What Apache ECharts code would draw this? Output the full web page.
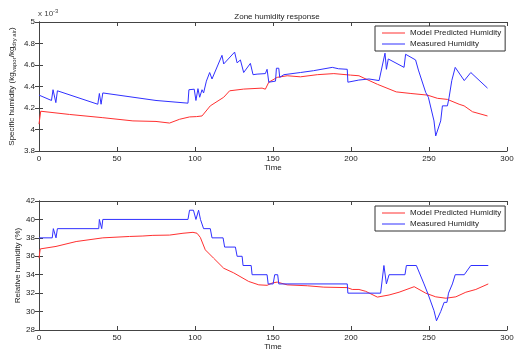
<!DOCTYPE html>
<html>
<head>
<meta charset="UTF-8">
<title>Zone humidity response</title>
<script src="https://cdn.jsdelivr.net/npm/echarts@6/dist/echarts.min.js"></script>
<style>
  html, body { margin: 0; padding: 0; background: #fff; }
  #main { width: 514px; height: 352px; }
</style>
</head>
<body>
<div id="main"></div>
<script>
// specific humidity (x 10^-3), model
var specModelT = [0, 1.1, 19.5, 40.9, 60.2, 75, 83.7, 90.1, 96.5, 101, 104.5, 109.8, 118.4, 122.2, 131.2, 143, 145.1, 147.3, 152.7, 159.1, 167.6, 178.4, 189, 199.7, 205.1, 208.3, 217, 229, 238.4, 249, 255.4, 261.8, 269.3, 272.5, 277.9, 287.5];
var specModelV = [4.05, 4.17, 4.14, 4.11, 4.08, 4.075, 4.06, 4.095, 4.117, 4.12, 4.126, 4.22, 4.30, 4.36, 4.376, 4.385, 4.375, 4.44, 4.485, 4.50, 4.49, 4.51, 4.52, 4.506, 4.50, 4.478, 4.42, 4.35, 4.335, 4.32, 4.29, 4.28, 4.235, 4.22, 4.165, 4.126];
// specific humidity, measured
var specMeasT = [0, 8, 9, 10, 10.8, 11.8, 37.7, 38.7, 39.8, 40.9, 75, 95.5, 96.1, 99.5, 100.6, 101.9, 103, 104.5, 105.5, 107.3, 109.4, 110.9, 117.3, 118.4, 125.4, 127, 129.1, 131.2, 135.5, 137.2, 139.8, 145.1, 146.2, 147.3, 151.6, 152.2, 153.7, 154.3, 157, 167.6, 176, 188, 192, 197.6, 198, 205, 211.5, 218, 219, 221.8, 222.7, 223.9, 234, 235, 241.4, 243.2, 247.9, 249.6, 253.2, 254.3, 255.4, 257.5, 258.6, 261.8, 262.9, 264.6, 266.8, 272.6, 276.8, 287.5];
var specMeasV = [4.32, 4.27, 4.37, 4.37, 4.25, 4.36, 4.235, 4.335, 4.235, 4.34, 4.27, 4.245, 4.37, 4.375, 4.27, 4.38, 4.30, 4.37, 4.34, 4.45, 4.53, 4.47, 4.69, 4.61, 4.72, 4.62, 4.647, 4.53, 4.615, 4.51, 4.515, 4.52, 4.56, 4.44, 4.45, 4.57, 4.57, 4.485, 4.51, 4.53, 4.547, 4.578, 4.565, 4.56, 4.44, 4.46, 4.47, 4.455, 4.44, 4.71, 4.56, 4.656, 4.578, 4.70, 4.647, 4.553, 4.344, 4.30, 4.08, 3.94, 3.94, 4.08, 4.22, 4.22, 4.30, 4.455, 4.578, 4.455, 4.53, 4.385];

// relative humidity (%), model
var relModelT = [0, 0.8, 10.9, 23.8, 40.9, 58, 66.6, 73, 83.7, 92.3, 98.7, 101.3, 103.4, 106.6, 111.9, 118.4, 124.8, 134.4, 140.9, 146.2, 149.5, 152.7, 159.1, 172, 182.6, 197.6, 200.8, 205.1, 209.4, 216.9, 224.4, 230.8, 240.5, 247.9, 254.3, 260.8, 267.2, 273.6, 280, 288];
var relModelV = [35.8, 36.8, 37.07, 37.6, 38.0, 38.15, 38.2, 38.27, 38.3, 38.5, 38.6, 38.5, 38.05, 36.7, 35.8, 34.7, 34.2, 33.27, 32.9, 32.85, 33.1, 33.2, 32.9, 32.8, 32.65, 32.6, 32.4, 32.4, 32.2, 31.57, 31.8, 32.1, 32.7, 32.0, 31.6, 31.45, 31.6, 32.1, 32.4, 33.0];
// relative humidity, measured
var relMeasT = [0, 8.5, 9.2, 10.2, 10.9, 11.8, 38.3, 38.7, 40.2, 40.9, 95.5, 96.5, 99, 100.6, 102.3, 103.5, 104.5, 105.5, 109.8, 110.9, 118, 119, 125.9, 127, 130.2, 130.8, 136, 136.6, 146.2, 146.9, 150.1, 151.1, 153, 153.7, 197.6, 198, 219, 221.1, 222.7, 224.4, 234.6, 235.5, 241.9, 246.8, 249.6, 253.2, 254.8, 256, 257.5, 259.7, 261.5, 262.5, 265, 266.8, 272.6, 276.8, 288];
var relMeasV = [38, 38, 39, 39, 38, 39, 39, 40, 39, 40, 40, 41, 41, 40, 41, 40, 40, 39, 39, 38, 38, 37, 37, 36, 36, 35, 35, 34, 34, 33, 33, 34, 34, 33, 33, 32, 32, 35, 33, 34, 34, 35, 35, 33, 31.8, 30.1, 29, 29, 30, 31, 31, 32, 33, 34, 34, 35, 35];

var names = ['Model Predicted Humidity', 'Measured Humidity'];
var xTicks = [0, 300, 50];

function pairs(t, v) {
  return t.map(function (x, i) { return [x, v[i]]; });
}

var axisCol = '#444';
var txt = { color: '#222', fontSize: 8, fontFamily: 'Liberation Sans, Arial, sans-serif' };

function xAx(grid, pos, show) {
  return {
    type: 'value', gridIndex: grid, position: pos,
    min: xTicks[0], max: xTicks[1], interval: xTicks[2],
    name: show ? 'Time' : '', nameLocation: 'middle', nameGap: 13,
    nameMoveOverlap: false,
    nameTextStyle: txt,
    axisLine: { show: true, lineStyle: { color: axisCol, width: 1 } },
    axisTick: { show: true, inside: true, length: 4, lineStyle: { color: axisCol } },
    axisLabel: Object.assign({ show: show, margin: 4 }, txt),
    splitLine: { show: false }
  };
}
function yAx(grid, pos, show, mn, mx, step, name, gap) {
  return {
    type: 'value', gridIndex: grid, position: pos,
    min: mn, max: mx, interval: step,
    name: show ? name : '', nameLocation: 'middle', nameGap: gap,
    nameMoveOverlap: false,
    nameTextStyle: Object.assign({
      rich: {
        a: { fontSize: 8, color: '#222', fontFamily: txt.fontFamily },
        s: { fontSize: 6, color: '#222', fontFamily: txt.fontFamily, verticalAlign: 'bottom', padding: [4, 0, 0, 0] }
      }
    }, txt),
    axisLine: { show: true, lineStyle: { color: axisCol, width: 1 } },
    axisTick: { show: true, inside: true, length: 4, lineStyle: { color: axisCol } },
    axisLabel: Object.assign({ show: show, margin: 4 }, txt),
    splitLine: { show: false }
  };
}

function line(name, x, y, data, color) {
  return {
    name: name, type: 'line', xAxisIndex: x, yAxisIndex: y,
    data: data, symbol: 'none', showSymbol: false, animation: false,
    lineStyle: { color: color, width: 1 }, itemStyle: { color: color }
  };
}

function legend(top) {
  return {
    data: names, orient: 'vertical', left: 375, top: top,
    icon: 'rect', itemWidth: 23, itemHeight: 1, itemGap: 3,
    padding: [3, 4, 3, 7],
    backgroundColor: '#fff', borderColor: '#333', borderWidth: 1, borderRadius: 0,
    textStyle: txt, selectedMode: false
  };
}

var chart = echarts.init(document.getElementById('main'));
chart.setOption({
  backgroundColor: '#fff',
  animation: false,
  title: [{
    text: 'Zone humidity response', left: 272, top: 8, textAlign: 'center',
    textStyle: { color: '#222', fontSize: 8, fontWeight: 'normal', fontFamily: txt.fontFamily }
  }],
  graphic: [{
    type: 'text', left: 38, top: 8,
    style: {
      text: '{a|x 10}{b|-3}',
      rich: {
        a: { fontSize: 8, fill: '#444', fontFamily: txt.fontFamily },
        b: { fontSize: 6, fill: '#444', fontFamily: txt.fontFamily, verticalAlign: 'top', padding: [0, 0, 5, 0] }
      }
    }
  }],
  legend: [legend(26), legend(206)],
  grid: [
    { left: 39, right: 7, top: 22, height: 129, outerBoundsMode: 'none', containLabel: false },
    { left: 39, right: 7, top: 201, height: 129, outerBoundsMode: 'none', containLabel: false }
  ],
  xAxis: [xAx(0, 'bottom', true), xAx(0, 'top', false), xAx(1, 'bottom', true), xAx(1, 'top', false)],
  yAxis: [
    yAx(0, 'left', true, 3.8, 5, 0.2, '{a|Specific humidity (kg}{s|vapor}{a|/kg}{s|dry air}{a|)}', 22),
    yAx(0, 'right', false, 3.8, 5, 0.2, '', 0),
    yAx(1, 'left', true, 28, 42, 2, 'Relative humidity (%)', 17),
    yAx(1, 'right', false, 28, 42, 2, '', 0)
  ],
  series: [
    line(names[0], 0, 0, pairs(specModelT, specModelV), '#ff3030'),
    line(names[1], 0, 0, pairs(specMeasT, specMeasV), '#3030ff'),
    line(names[0], 2, 2, pairs(relModelT, relModelV), '#ff3030'),
    line(names[1], 2, 2, pairs(relMeasT, relMeasV), '#3030ff')
  ]
});
</script>
</body>
</html>
